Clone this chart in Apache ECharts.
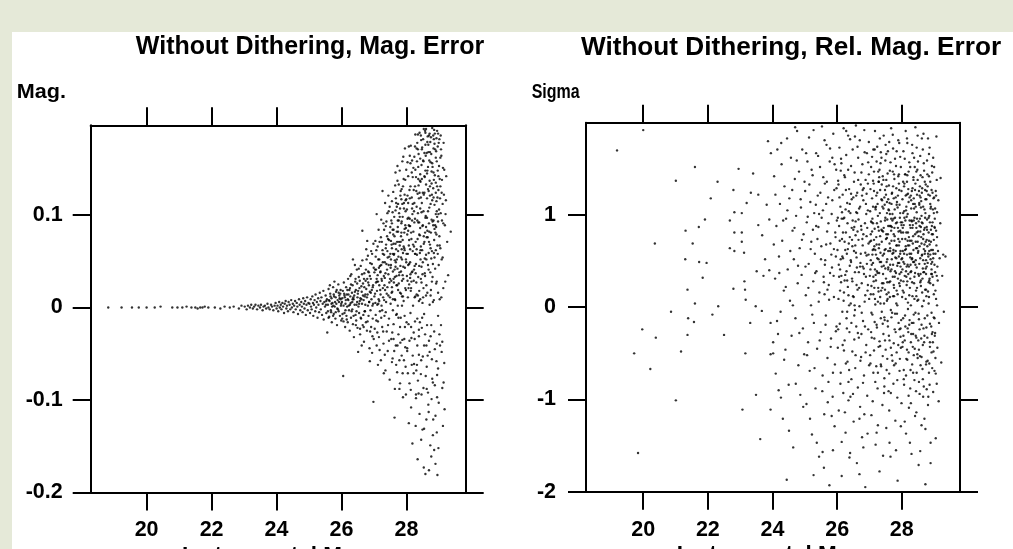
<!DOCTYPE html>
<html>
<head>
<meta charset="utf-8">
<script src="https://cdn.jsdelivr.net/npm/echarts@6/dist/echarts.min.js"></script>
<style>
html,body{margin:0;padding:0;background:#e5e9d8;}
#panel{position:absolute;left:12px;top:32px;width:1001px;height:517px;background:#fff;}
#chart{position:absolute;left:0;top:0;width:1013px;height:549px;}
</style>
</head>
<body>
<div id="panel"></div>
<div id="chart"></div>
<script>
const xTicks = [20, 22, 24, 26, 28];
const magErrTicks = [-0.2, -0.1, 0, 0.1];
const relErrTicks = [-2, -1, 0, 1];
const titles = ['Without Dithering, Mag. Error', 'Without Dithering, Rel. Mag. Error'];
const yNames = ['Mag.', 'Sigma'];
const xName = 'Instrumental Mag.';

// Left panel: [instrumental magnitude, magnitude error]
const magErrPoints = [
[18.82,0],[19.23,0],[19.55,0],[19.76,0],[20.0,0],[20.25,0],[20.43,0.001],[20.79,0],[20.95,0],[21.1,0],[21.23,0.001],[21.38,0],[21.5,0],[21.57,-0.001],[21.65,0],[21.72,0],[21.79,0.001],[21.9,0],[22.1,0],[22.27,-0.001],[22.4,0.001],[22.56,0],[22.68,0.001],[22.84,-0.001],[22.92,0.002],
[23.02,0.001],[23.08,-0.002],[23.12,0.002],[23.18,0],[23.22,0.003],[23.27,-0.001],[23.31,0.001],[23.35,0.003],[23.4,-0.002],[23.44,0.002],[23.49,0],[23.52,0.003],[23.57,-0.003],[23.6,0.001],[23.64,0.002],[23.68,-0.001],[23.72,0.004],[23.75,0],[23.79,-0.002],[23.83,0.003],[23.86,0.001],[23.9,-0.003],[23.94,0.002],[23.97,0.005],[24.0,-0.001],
[24.03,0.002],[24.05,-0.004],[24.08,0.006],[24.1,0],[24.13,0.003],[24.15,-0.002],[24.18,0.005],[24.2,0.001],[24.23,-0.006],[24.25,0.004],[24.28,0.007],[24.3,-0.001],[24.32,0.002],[24.35,-0.004],[24.37,0.006],[24.4,0.003],[24.42,-0.002],[24.45,0.008],[24.47,0],[24.5,0.004],[24.52,-0.005],[24.54,0.002],[24.57,0.007],[24.59,-0.002],[24.62,0.005],[24.64,0.001],[24.66,-0.007],[24.69,0.009],[24.71,0.003],[24.73,-0.003],[24.76,0.006],[24.78,0.001],[24.8,-0.005],[24.82,0.01],[24.84,0.004],[24.86,-0.001],[24.88,0.007],[24.9,-0.008],[24.92,0.003],[24.94,0.011],[24.96,-0.003],[24.98,0.005],
[25.01,0.004],[25.03,-0.006],[25.05,0.009],[25.06,0.001],[25.08,-0.002],[25.1,0.012],[25.12,0.005],[25.13,-0.009],[25.15,0.003],[25.17,0.008],[25.19,-0.004],[25.2,0.014],[25.22,0],[25.24,0.006],[25.26,-0.011],[25.28,0.01],[25.29,0.003],[25.31,-0.005],[25.33,0.016],[25.35,0.007],[25.36,-0.002],[25.38,0.011],[25.4,-0.008],[25.42,0.004],[25.44,0.018],[25.45,-0.013],[25.47,0.006],[25.49,0.001],[25.51,0.013],[25.53,-0.006],[25.55,0.009],[25.56,-0.027],[25.58,0.003],[25.6,0.02],[25.62,-0.01],[25.63,0.007],[25.65,0.015],[25.67,-0.003],[25.69,0.01],[25.7,-0.016],[25.72,0.005],[25.74,0.022],[25.76,-0.007],[25.77,0.012],[25.79,0.001],[25.81,-0.012],[25.83,0.017],[25.84,0.004],[25.86,-0.019],[25.88,0.008],[25.9,0.025],[25.91,-0.004],[25.93,0.013],[25.95,-0.009],[25.97,0.019],[25.98,0.002],[25.99,-0.014],
[25.52,0.003],[25.61,0.008],[25.68,-0.005],[25.75,0.002],[25.82,0.011],[25.87,-0.001],[25.92,0.006],[25.96,0.015],[25.78,0.028],[25.64,0.024],
[26.01,0.006],[26.02,-0.012],[26.04,0.018],[26.05,-0.074],[26.06,0.002],[26.07,0.027],[26.09,-0.006],[26.1,0.011],[26.11,-0.021],[26.12,0.004],[26.14,0.022],[26.15,-0.009],[26.16,0.014],[26.17,0.001],[26.19,-0.016],[26.2,0.031],[26.21,0.008],[26.23,-0.003],[26.24,0.019],[26.25,-0.025],[26.27,0.012],[26.28,0.005],[26.29,-0.011],[26.3,0.036],[26.32,0.016],[26.33,-0.002],[26.34,0.024],[26.35,-0.018],[26.37,0.009],[26.38,-0.032],[26.39,0.013],[26.4,0.003],[26.42,0.028],[26.43,-0.008],[26.44,0.019],[26.45,-0.014],[26.47,0.041],[26.48,0.006],[26.49,-0.022],[26.5,0.015],[26.52,0.001],[26.53,0.033],[26.54,-0.006],[26.55,0.021],[26.57,-0.029],[26.58,0.01],[26.59,0.045],[26.6,-0.012],[26.62,0.017],[26.63,0.004],[26.64,0.083],[26.65,-0.019],[26.66,0.026],[26.68,0.008],[26.69,-0.037],[26.7,0.037],[26.71,0.012],[26.72,-0.004],[26.74,0.029],[26.75,-0.016],[26.76,0.02],[26.77,0.052],[26.78,-0.025],[26.8,0.014],[26.81,0.002],[26.82,0.039],[26.83,-0.009],[26.84,0.024],[26.86,-0.044],[26.87,0.017],[26.88,0.048],[26.89,-0.003],[26.9,0.031],[26.91,-0.021],[26.92,0.009],[26.94,0.058],[26.95,-0.031],[26.96,0.022],[26.97,0.004],[26.98,-0.102],[26.99,0.043],
[26.19,0.009],[26.26,0.003],[26.36,0.011],[26.46,-0.004],[26.56,0.007],[26.61,0.023],[26.67,-0.008],[26.73,0.014],[26.79,0.031],[26.85,0.006],[26.93,0.019],[26.51,-0.048],[26.41,0.046],[26.87,-0.058],[26.62,-0.041],[26.35,0.052],
[27.01,0.012],[27.02,-0.023],[27.03,0.041],[27.04,0.005],[27.05,-0.008],[27.06,0.027],[27.07,0.062],[27.08,-0.041],[27.09,0.018],[27.1,0.003],[27.11,0.035],[27.12,-0.015],[27.13,0.052],[27.14,0.009],[27.15,-0.032],[27.16,0.024],[27.17,0.071],[27.18,-0.004],[27.19,0.038],[27.2,0.014],[27.21,-0.057],[27.22,0.046],[27.23,0.002],[27.24,0.029],[27.25,-0.021],[27.26,0.126],[27.27,0.058],[27.28,0.011],[27.29,-0.039],[27.3,0.034],[27.31,0.084],[27.32,-0.009],[27.33,0.049],[27.34,0.019],[27.35,-0.068],[27.36,0.064],[27.37,0.006],[27.38,0.093],[27.39,-0.026],[27.4,0.041],[27.41,0.022],[27.42,-0.047],[27.43,0.074],[27.44,0.013],[27.45,0.104],[27.46,-0.012],[27.47,0.055],[27.48,-0.078],[27.49,0.031],[27.5,0.087],[27.51,0.004],[27.52,0.046],[27.53,-0.034],[27.54,0.068],[27.55,0.115],[27.56,0.017],[27.57,-0.055],[27.58,0.039],[27.59,0.079],[27.6,-0.018],[27.61,0.027],[27.62,0.098],[27.63,-0.119],[27.64,0.051],[27.65,0.008],[27.66,0.146],[27.67,-0.041],[27.68,0.063],[27.69,0.024],[27.7,0.109],[27.71,-0.07],[27.72,0.042],[27.73,0.002],[27.74,0.082],[27.75,-0.029],[27.76,0.133],[27.77,0.035],[27.78,-0.088],[27.79,0.067],[27.8,0.016],[27.81,0.121],[27.82,-0.011],[27.83,0.054],[27.84,0.091],[27.85,-0.052],[27.86,0.029],[27.87,0.158],[27.88,0.073],[27.89,-0.097],[27.9,0.044],[27.91,0.007],[27.92,0.113],[27.93,-0.034],[27.94,0.062],[27.95,0.172],[27.96,0.021],[27.97,-0.064],[27.98,0.086],[27.99,0.049],
[27.12,0.028],[27.18,0.045],[27.27,0.021],[27.33,0.032],[27.38,0.047],[27.44,0.036],[27.5,0.058],[27.55,0.022],[27.6,0.069],[27.64,0.033],[27.7,0.052],[27.74,0.019],[27.79,0.098],[27.83,0.077],[27.88,0.035],[27.93,0.081],[27.97,0.104],[27.46,0.073],[27.36,-0.005],[27.58,-0.003],[27.68,-0.008],[27.86,0.012],[27.91,0.139],[27.77,0.102],[27.62,0.058],[27.53,0.094],[27.41,0.061],[27.22,-0.011],[27.16,0.052],[27.08,0.031],[27.95,-0.021],[27.85,0.128],[27.72,0.153],[27.81,-0.038],[27.99,0.117],[27.66,0.044],[27.49,0.011],[27.31,0.057],[27.24,0.071],[27.89,0.059],
[28.01,0.034],[28.02,-0.047],[28.03,0.096],[28.04,0.011],[28.05,0.142],[28.06,-0.018],[28.07,0.067],[28.08,0.025],[28.09,-0.082],[28.1,0.118],[28.11,0.049],[28.12,-0.006],[28.13,0.175],[28.14,0.081],[28.15,-0.033],[28.16,0.038],[28.17,0.107],[28.18,-0.147],[28.19,0.061],[28.2,0.002],[28.21,0.151],[28.22,0.029],[28.23,-0.061],[28.24,0.092],[28.25,0.045],[28.26,-0.015],[28.27,0.187],[28.28,0.071],[28.29,-0.098],[28.3,0.126],[28.31,0.014],[28.32,0.057],[28.33,-0.041],[28.34,-0.164],[28.35,0.102],[28.36,0.033],[28.37,0.166],[28.38,-0.024],[28.39,0.079],[28.4,-0.115],[28.41,0.137],[28.42,0.009],[28.43,0.062],[28.44,-0.072],[28.45,0.181],[28.46,0.044],[28.47,0.113],[28.48,-0.011],[28.49,0.088],[28.5,-0.053],[28.51,0.159],[28.52,0.021],[28.53,0.069],[28.54,-0.131],[28.55,0.124],[28.56,0.037],[28.57,-0.029],[28.58,-0.18],[28.59,0.099],[28.6,0.193],[28.61,0.052],[28.62,-0.064],[28.63,0.145],[28.64,0.016],[28.65,0.076],[28.66,-0.092],[28.67,0.168],[28.68,0.041],[28.69,-0.036],[28.7,0.108],[28.71,0.003],[28.72,0.131],[28.73,-0.149],[28.74,0.064],[28.75,0.184],[28.76,-0.019],[28.77,0.095],[28.78,0.028],[28.79,-0.077],[28.8,0.152],[28.81,0.047],[28.82,-0.121],[28.83,0.119],[28.84,0.008],[28.85,0.073],[28.86,0.177],[28.87,-0.045],[28.88,0.089],[28.89,-0.169],[28.9,0.135],[28.91,0.026],[28.92,-0.058],[28.93,0.104],[28.94,0.191],[28.95,-0.181],[28.96,0.058],[28.97,-0.009],[28.98,0.142],[28.99,-0.103],
[28.04,0.058],[28.08,0.073],[28.11,0.088],[28.14,0.021],[28.19,0.112],[28.23,0.066],[28.26,0.131],[28.29,0.047],[28.33,0.094],[28.36,0.139],[28.39,0.018],[28.42,0.107],[28.46,0.154],[28.49,0.036],[28.53,0.122],[28.57,0.081],[28.6,0.013],[28.63,0.097],[28.66,0.128],[28.69,0.071],[28.72,0.168],[28.76,0.053],[28.79,0.116],[28.83,0.146],[28.86,0.085],[28.9,0.062],[28.93,0.158],[28.97,0.093],[28.12,0.156],[28.31,0.172],[28.44,0.186],[28.58,0.176],[28.71,0.188],[28.84,0.182],[28.52,-0.087],[28.68,-0.113],[28.81,-0.138],[28.94,-0.073],[28.38,-0.051],[28.22,-0.027],[28.16,-0.062],[28.47,-0.022],[28.61,-0.041],[28.74,-0.031],[28.87,-0.084],[28.98,-0.152],[28.64,0.148],[28.55,0.167],[28.41,0.059],[28.27,0.012],[28.09,0.127],[28.35,-0.079],[28.77,0.134],[28.92,0.115],[28.06,0.097],
[29.01,0.077],[29.03,-0.041],[29.04,0.131],[29.06,-0.019],[29.07,0.164],[29.08,0.052],[29.1,-0.087],[29.11,0.112],[29.13,0.021],[29.14,0.178],[29.16,-0.06],[29.18,0.089],[29.2,0.101],[29.22,0.142],[29.25,0.071],[29.28,0.035],[29.05,0.186],[29.12,-0.128],[29.09,0.094],[29.02,0.009],[29.15,0.122],[29.36,0.082],[29.17,-0.11]
];

// Left panel, additional faint-star points
const magErrFaint = [
[25.53,0.007],[25.58,-0.004],[25.66,0.012],[25.71,0.001],[25.74,-0.009],[25.8,0.006],[25.85,0.019],[25.89,-0.002],[25.94,0.01],[25.99,0.004],[26.03,-0.007],[26.08,0.015],[26.13,0.008],[26.16,-0.013],[26.22,0.002],[26.26,0.021],[26.31,-0.004],[26.34,0.009],[26.41,0.017],[26.44,-0.019],[26.48,0.026],[26.27,0.034],[26.18,0.019],[26.09,0.013],[25.91,0.016],[25.6,-0.011],[26.37,-0.009],[26.46,0.003],[26.12,-0.003],[26.21,0.014],[25.82,-0.005],[25.69,0.004],[26.02,0.01],[26.33,0.006],[26.43,0.031],[25.97,0.009],[26.29,0.025],[26.06,-0.015],[25.76,0.014],[26.49,0.011],
[26.51,0.018],[26.54,0.004],[26.56,0.029],[26.59,-0.011],[26.61,0.009],[26.63,0.036],[26.66,0.013],[26.68,-0.021],[26.7,0.022],[26.73,0.003],[26.75,0.041],[26.78,0.011],[26.8,-0.015],[26.82,0.027],[26.85,0.006],[26.87,0.034],[26.88,-0.026],[26.9,0.016],[26.93,0.047],[26.95,0.002],[26.97,0.024],[26.99,-0.034],[27.01,0.038],[27.03,0.015],[27.05,0.055],[27.07,-0.014],[27.09,0.028],[27.11,0.066],[27.13,0.004],[27.15,0.043],[27.17,-0.046],[27.19,0.019],[27.21,0.076],[27.23,0.031],[27.25,-0.003],[27.27,0.049],[27.29,0.091],[27.31,0.008],[27.33,-0.051],[27.35,0.037],[27.37,0.068],[27.39,0.015],[27.41,0.102],[27.43,-0.019],[27.45,0.046],[27.47,0.027],[27.49,0.081],[26.57,-0.023],[26.64,0.051],[26.71,-0.004],[26.76,0.063],[26.84,0.038],[26.91,0.061],[26.96,-0.012],[27.04,0.072],[27.1,-0.027],[27.14,0.084],[27.2,0.039],[27.26,0.062],[27.32,0.024],[27.36,0.088],[27.42,0.054],[27.46,-0.036],[27.48,0.109],[26.53,0.042],[26.69,0.031],[26.81,0.056],[26.98,0.069],[27.06,0.041],[27.16,0.007],[27.28,-0.026],[27.4,0.077],[27.44,0.121],[27.34,0.113],[27.22,0.095],[27.08,0.101],[26.94,-0.049],[26.79,0.072],[27.3,-0.071],[27.12,-0.062],
[27.51,0.043],[27.52,0.072],[27.54,0.016],[27.55,0.091],[27.56,-0.027],[27.58,0.058],[27.59,0.125],[27.6,0.031],[27.62,-0.047],[27.63,0.077],[27.64,0.009],[27.66,0.105],[27.67,0.049],[27.68,-0.062],[27.7,0.082],[27.71,0.024],[27.72,0.137],[27.74,0.061],[27.75,-0.011],[27.76,0.094],[27.78,0.038],[27.79,0.148],[27.8,-0.082],[27.82,0.071],[27.83,0.015],[27.84,0.117],[27.86,0.052],[27.87,-0.035],[27.88,0.098],[27.9,0.163],[27.91,0.066],[27.92,-0.057],[27.94,0.122],[27.95,0.043],[27.96,0.089],[27.98,-0.094],[27.99,0.149],[28.0,0.058],[28.01,0.106],[28.03,0.029],[28.04,-0.071],[28.05,0.083],[28.07,0.174],[28.08,0.047],[28.09,-0.036],[28.1,0.096],[28.12,0.131],[28.13,0.018],[28.14,-0.108],[28.15,0.074],[28.17,0.159],[28.18,0.039],[28.19,-0.052],[27.53,0.029],[27.57,0.103],[27.61,0.057],[27.65,0.132],[27.69,0.034],[27.73,0.087],[27.77,0.071],[27.81,0.045],[27.85,0.093],[27.89,0.012],[27.93,0.064],[27.97,0.116],[28.02,0.079],[28.06,0.021],[28.11,0.063],[28.16,0.119],[27.6,0.084],[27.68,0.113],[27.75,0.055],[27.82,0.126],[27.9,0.031],[27.96,0.138],[28.03,0.157],[28.09,0.088],[28.15,0.028],[27.55,-0.059],[27.64,-0.088],[27.72,-0.041],[27.8,-0.021],[27.88,-0.071],[27.94,-0.009],[28.0,-0.016],[28.07,-0.125],[28.13,-0.089],[28.19,0.141],[27.66,0.069],[27.74,0.112],[27.84,0.081],[27.92,0.107],[27.98,0.052],[28.05,0.113],[28.12,0.036],[28.17,0.094],[27.58,0.009],[27.7,-0.007],[27.86,0.002],[28.02,-0.044],
[28.21,0.082],[28.22,0.127],[28.23,0.041],[28.24,0.163],[28.25,-0.034],[28.26,0.096],[28.27,0.058],[28.28,-0.128],[28.29,0.141],[28.3,0.027],[28.31,0.109],[28.32,-0.062],[28.33,0.178],[28.34,0.074],[28.35,0.013],[28.36,0.152],[28.37,-0.093],[28.38,0.118],[28.39,0.045],[28.4,0.189],[28.41,-0.016],[28.42,0.086],[28.43,0.136],[28.44,0.031],[28.45,-0.057],[28.46,0.103],[28.47,0.171],[28.48,0.062],[28.49,-0.132],[28.5,0.124],[28.51,0.011],[28.52,0.158],[28.53,0.077],[28.54,-0.041],[28.55,0.142],[28.56,0.053],[28.57,0.191],[28.58,0.097],[28.59,-0.074],[28.6,0.133],[28.61,0.024],[28.62,0.167],[28.63,-0.019],[28.64,0.083],[28.65,0.185],[28.66,0.046],[28.67,-0.105],[28.68,0.126],[28.69,0.091],[28.7,0.159],[28.71,-0.048],[28.72,0.068],[28.73,0.179],[28.74,0.112],[28.75,0.019],[28.76,-0.161],[28.77,0.147],[28.78,0.061],[28.79,0.194],[28.8,0.033],[28.81,-0.081],[28.82,0.129],[28.83,0.172],[28.84,0.059],[28.85,-0.026],[28.86,0.111],[28.87,0.188],[28.88,0.042],[28.89,-0.117],[28.9,0.162],[28.91,0.087],[28.92,0.183],[28.93,-0.039],[28.94,0.131],[28.95,0.067],[28.96,0.174],[28.97,-0.066],[28.98,0.101],[28.99,0.046],[29.0,0.153],[29.01,-0.029],[29.03,0.118],[29.04,0.064],[29.06,0.171],[29.08,-0.048],[29.09,0.138],[29.11,0.054],[29.13,0.091],[29.14,-0.081],[29.16,0.149],[29.19,0.028],[29.21,0.116],[28.23,0.104],[28.27,0.149],[28.31,0.063],[28.35,0.171],[28.39,0.092],[28.43,0.052],[28.47,0.139],[28.51,0.182],[28.55,0.071],[28.59,0.164],[28.63,0.118],[28.67,0.176],[28.71,0.137],[28.75,0.081],[28.79,0.156],[28.83,0.094],[28.87,0.143],[28.91,0.169],[28.95,0.119],[28.99,0.178],[29.02,0.139],[29.05,0.102],[28.25,0.011],[28.33,-0.012],[28.41,0.078],[28.49,0.005],[28.57,0.034],[28.65,-0.052],[28.73,0.038],[28.81,0.006],[28.89,0.081],[28.97,0.016],[28.29,-0.094],[28.45,-0.143],[28.61,-0.121],[28.77,-0.099],[28.93,-0.135],[28.53,-0.173],[28.85,-0.154],[28.69,-0.176],[28.37,0.132],[28.53,0.193],[28.69,0.186],[28.85,0.192],[29.01,0.182],[28.26,0.174],[28.42,0.161],[28.58,0.148],[28.74,0.157],[28.9,0.124],[29.07,0.011],[28.22,-0.071],[28.38,-0.031],[28.46,0.027],[28.62,0.076],[28.78,0.122],[28.94,0.098],[28.34,0.123],[28.5,0.089],[28.66,0.104],[28.82,0.089],[28.98,0.127],[28.44,0.119],[28.6,0.057],
[27.52,0.052],[27.57,0.084],[27.63,0.041],[27.67,0.118],[27.71,0.071],[27.76,0.026],[27.8,0.107],[27.85,0.063],[27.89,0.131],[27.94,0.085],[27.98,0.019],[28.03,0.121],[28.07,0.089],[28.11,0.032],[28.16,0.146],[28.2,0.068],[28.24,0.113],[28.28,0.037],[28.32,0.158],[28.36,0.092],[28.4,0.124],[28.44,0.066],[28.48,0.173],[28.52,0.104],[28.56,0.141],[28.6,0.087],[28.64,0.179],[28.68,0.059],[28.72,0.121],[28.76,0.166],[28.8,0.093],[28.84,0.138],[28.88,0.171],[28.92,0.079],[28.96,0.148],[29.0,0.106],[29.04,0.162],[29.08,0.124],[29.12,0.151],[27.6,-0.034],[27.78,-0.057],[27.96,-0.043],[28.14,-0.021],[28.3,-0.068],[28.46,-0.094],[28.62,-0.088],[28.78,-0.056],[28.94,-0.097],[29.1,-0.037],[28.35,0.187],[28.58,0.189],[28.82,0.186],[28.97,0.188],[28.1,0.164],[27.87,0.112],[28.26,0.058],[28.5,0.049],[28.7,0.082],[28.9,0.101],[27.73,0.094],[28.18,0.101],[28.42,0.144],[28.66,0.152],[28.86,0.054],[29.02,0.067],[27.55,0.064],[27.83,0.039],[28.05,0.046],[28.38,0.007],[28.54,-0.007],[28.74,0.013],[28.93,0.028]
];

// Right panel: [instrumental magnitude, relative error in sigma]
const relErrPoints = [
[19.19,1.7],[20.0,1.92],[19.72,-0.5],[19.84,-1.58],[19.97,-0.24],[20.22,-0.67],[20.36,0.69],[20.39,-0.33],[20.86,-0.05],[21.01,-1.01],[21.01,1.37],[21.17,-0.48],[21.3,0.52],[21.31,0.83],[21.37,0.19],[21.37,-0.3],[21.39,-0.12],[21.53,0.69],[21.57,-0.16],[21.6,0.04],[21.72,0.87],[21.73,0.49],[21.84,0.32],[21.91,0.95],[21.96,0.48],[22.09,1.18],[22.14,-0.08],[22.32,0.01],[22.5,-0.3],[22.68,0.94],[22.68,0.64],[22.79,1.27],[22.79,0.2],[22.82,1.03],[22.82,0.81],[22.82,0.61],[23.05,1.02],[23.05,0.81],[23.05,0.71],[23.12,0.59],[23.13,0.28],[23.15,0.19],[23.17,0.08],[23.16,-0.5],[23.2,1.13],[23.31,-0.17],[23.33,1.24],[23.48,0.01],[23.49,-0.95],[23.51,0.39],[23.56,1.22],[23.56,0.89],[23.67,-0.04],[23.68,0.78],[23.72,0.34],[23.77,0.52],[23.82,1.11],[23.9,0.4],[23.9,0.95],[23.94,-0.17],[23.94,-0.51],[24.02,-0.5],[23.94,-1.11],[23.07,-1.11],[24.02,-0.38],
[21.6,1.52],[22.3,1.36],[23.86,1.8],[23.95,1.67],[22.95,1.5],[23.4,1.45],[23.62,-1.43],
[24.05,1.42],[24.08,0.31],[24.1,-0.72],[24.12,0.88],[24.15,1.71],[24.17,-0.29],[24.19,-0.9],[24.2,0.55],[24.23,1.12],[24.25,-0.05],[24.28,1.55],[24.3,0.72],[24.32,-1.21],[24.35,0.18],[24.37,1.31],[24.4,-0.46],[24.42,0.96],[24.45,1.83],[24.47,0.41],[24.5,-0.84],[24.52,1.18],[24.54,0.07],[24.57,1.62],[24.59,-0.31],[24.62,0.83],[24.64,-1.52],[24.66,0.52],[24.69,1.39],[24.71,-0.12],[24.73,0.99],[24.76,1.91],[24.78,0.26],[24.8,-0.63],[24.82,1.47],[24.84,0.64],[24.86,-0.95],[24.88,1.08],[24.9,0.35],[24.92,1.71],[24.94,-0.23],[24.96,0.79],[24.98,-0.51],
[25.01,1.26],[25.03,0.13],[25.05,-1.05],[25.06,0.92],[25.08,1.58],[25.1,-0.38],[25.12,0.47],[25.13,1.84],[25.15,-0.69],[25.17,1.14],[25.19,0.02],[25.2,0.71],[25.22,-1.38],[25.24,1.43],[25.26,0.28],[25.28,-0.17],[25.29,1.02],[25.31,0.58],[25.33,-0.88],[25.35,1.67],[25.36,0.39],[25.38,-0.45],[25.4,1.21],[25.42,0.87],[25.44,-1.62],[25.45,0.16],[25.47,1.52],[25.49,-0.27],[25.51,0.66],[25.53,1.96],[25.55,-0.74],[25.56,1.05],[25.58,0.33],[25.6,-1.16],[25.62,1.34],[25.63,0.51],[25.65,-0.09],[25.67,1.76],[25.69,0.82],[25.7,-0.55],[25.72,1.19],[25.74,0.24],[25.76,-1.93],[25.77,1.58],[25.79,0.69],[25.81,-0.34],[25.83,1.01],[25.84,0.43],[25.86,-0.97],[25.88,1.88],[25.9,0.11],[25.91,1.27],[25.93,-0.62],[25.95,0.76],[25.97,1.49],[25.98,-0.21],[25.99,0.94],
[25.52,0.97],[25.61,0.14],[25.66,1.12],[25.73,-0.81],[25.78,0.37],[25.85,1.62],[25.92,-1.29],[25.96,0.55],[25.59,-1.74],[25.87,-1.55],
[26.01,0.62],[26.02,-0.44],[26.03,1.37],[26.04,0.09],[26.05,-1.12],[26.06,0.88],[26.07,1.73],[26.08,-0.18],[26.09,0.41],[26.1,1.09],[26.11,-0.71],[26.12,0.27],[26.13,1.56],[26.14,-1.83],[26.15,0.74],[26.16,-0.05],[26.17,1.22],[26.18,0.53],[26.19,-0.93],[26.2,1.94],[26.21,0.16],[26.22,0.97],[26.23,-0.36],[26.24,1.41],[26.25,0.35],[26.26,-1.36],[26.27,0.81],[26.28,1.65],[26.29,-0.12],[26.3,0.58],[26.31,1.13],[26.32,-0.59],[26.33,0.22],[26.34,1.86],[26.35,-1.01],[26.36,0.69],[26.37,1.28],[26.38,-0.27],[26.39,0.45],[26.4,-1.58],[26.41,1.02],[26.42,0.04],[26.43,1.53],[26.44,-0.78],[26.45,0.86],[26.46,0.31],[26.47,-0.48],[26.48,1.71],[26.49,0.12],[26.5,1.19],[26.51,-1.24],[26.52,0.61],[26.53,-0.09],[26.54,1.46],[26.55,0.38],[26.56,-0.66],[26.57,0.93],[26.58,1.97],[26.59,-0.21],[26.6,0.54],[26.61,-1.69],[26.62,1.24],[26.63,0.19],[26.64,-0.87],[26.65,1.62],[26.66,0.73],[26.67,-0.33],[26.68,1.07],[26.69,0.01],[26.7,1.81],[26.71,-1.08],[26.72,0.48],[26.73,1.33],[26.74,-0.54],[26.75,0.84],[26.76,0.26],[26.77,-1.41],[26.78,1.55],[26.79,0.67],[26.8,-0.15],[26.81,1.16],[26.82,0.42],[26.83,-0.74],[26.84,1.92],[26.85,0.06],[26.86,0.91],[26.87,-1.95],[26.88,1.38],[26.89,0.33],[26.9,-0.41],[26.91,0.77],[26.92,1.67],[26.93,-0.96],[26.94,0.18],[26.95,1.05],[26.96,-0.24],[26.97,0.57],[26.98,1.44],[26.99,-0.63],
[26.06,0.33],[26.14,0.96],[26.23,0.71],[26.31,0.29],[26.39,1.12],[26.47,0.66],[26.55,-0.03],[26.63,0.82],[26.71,0.44],[26.79,1.27],[26.87,0.59],[26.95,0.24],[26.11,1.48],[26.27,-0.61],[26.43,0.49],[26.59,1.03],[26.75,-0.29],[26.91,1.23],[26.53,0.87],[26.37,0.02],
[27.01,0.71],[27.02,-0.52],[27.03,1.28],[27.04,0.14],[27.05,0.93],[27.06,-1.17],[27.07,0.46],[27.08,1.63],[27.09,-0.08],[27.1,0.62],[27.11,1.09],[27.12,-0.71],[27.13,0.28],[27.14,1.47],[27.15,-0.34],[27.16,0.85],[27.17,1.91],[27.18,0.03],[27.19,-1.49],[27.2,0.57],[27.21,1.21],[27.22,-0.19],[27.23,0.39],[27.24,1.74],[27.25,-0.88],[27.26,0.99],[27.27,0.21],[27.28,-0.43],[27.29,1.36],[27.3,0.68],[27.31,-1.78],[27.32,1.02],[27.33,0.11],[27.34,1.56],[27.35,-0.62],[27.36,0.49],[27.37,1.17],[27.38,-0.05],[27.39,0.83],[27.4,-1.06],[27.41,1.42],[27.42,0.36],[27.43,-0.29],[27.44,1.86],[27.45,0.58],[27.46,-0.77],[27.47,1.11],[27.48,0.19],[27.49,1.59],[27.5,-0.46],[27.51,0.74],[27.52,-1.31],[27.53,1.31],[27.54,0.07],[27.55,0.95],[27.56,-0.15],[27.57,1.69],[27.58,0.43],[27.59,-0.91],[27.6,1.05],[27.61,0.27],[27.62,-0.36],[27.63,1.48],[27.64,0.64],[27.65,-1.62],[27.66,0.88],[27.67,1.94],[27.68,-0.11],[27.69,0.52],[27.7,1.24],[27.71,-0.58],[27.72,0.33],[27.73,1.72],[27.74,-0.83],[27.75,0.79],[27.76,0.12],[27.77,1.39],[27.78,-0.24],[27.79,0.97],[27.8,-1.23],[27.81,0.61],[27.82,1.53],[27.83,0.04],[27.84,-0.49],[27.85,1.14],[27.86,0.45],[27.87,-1.88],[27.88,0.86],[27.89,1.81],[27.9,-0.17],[27.91,0.55],[27.92,1.27],[27.93,-0.69],[27.94,0.23],[27.95,1.63],[27.96,-0.32],[27.97,0.92],[27.98,0.38],[27.99,-1.04],
[27.03,0.41],[27.08,0.82],[27.13,0.63],[27.18,1.08],[27.23,0.91],[27.28,0.52],[27.33,0.77],[27.38,1.33],[27.43,0.26],[27.48,0.94],[27.53,0.49],[27.58,1.17],[27.63,0.11],[27.68,0.72],[27.73,0.46],[27.78,1.06],[27.83,0.67],[27.88,0.31],[27.93,1.11],[27.98,0.81],[27.05,-0.27],[27.15,0.21],[27.25,0.37],[27.35,-0.12],[27.45,0.04],[27.55,-0.56],[27.65,0.39],[27.75,-0.39],[27.85,-0.07],[27.95,0.58],[27.11,1.37],[27.31,1.49],[27.51,1.22],[27.71,1.01],[27.91,1.44],[27.21,-0.64],[27.41,-0.53],[27.61,-0.72],[27.81,-0.61],[27.97,-0.44],
[28.01,0.53],[28.02,1.17],[28.03,-0.38],[28.04,0.81],[28.05,1.69],[28.06,0.16],[28.07,-0.84],[28.08,0.97],[28.09,0.34],[28.1,1.44],[28.11,-0.21],[28.12,0.66],[28.13,-1.37],[28.14,1.09],[28.15,0.24],[28.16,1.83],[28.17,-0.57],[28.18,0.72],[28.19,0.05],[28.2,1.28],[28.21,-0.96],[28.22,0.44],[28.23,1.57],[28.24,-0.14],[28.25,0.89],[28.26,0.31],[28.27,-0.68],[28.28,1.21],[28.29,0.58],[28.3,-1.59],[28.31,0.93],[28.32,1.76],[28.33,0.12],[28.34,-0.43],[28.35,0.77],[28.36,1.38],[28.37,-0.08],[28.38,0.49],[28.39,-0.79],[28.4,1.12],[28.41,0.37],[28.42,1.95],[28.43,-0.31],[28.44,0.64],[28.45,-1.14],[28.46,1.03],[28.47,0.21],[28.48,1.49],[28.49,-0.55],[28.5,0.82],[28.51,0.08],[28.52,-1.71],[28.53,1.26],[28.54,0.47],[28.55,-0.24],[28.56,0.96],[28.57,1.64],[28.58,-0.63],[28.59,0.29],[28.6,1.15],[28.61,-1.28],[28.62,0.56],[28.63,0.01],[28.64,1.41],[28.65,-0.41],[28.66,0.74],[28.67,1.88],[28.68,-0.86],[28.69,0.38],[28.7,1.06],[28.71,-0.12],[28.72,0.61],[28.73,-1.92],[28.74,1.33],[28.75,0.19],[28.76,-0.59],[28.77,0.87],[28.78,1.59],[28.79,-0.33],[28.8,0.48],[28.81,-1.06],[28.82,1.22],[28.83,0.27],[28.84,-0.71],[28.85,0.99],[28.86,1.73],[28.87,-0.18],[28.88,0.57],[28.89,-1.47],[28.9,1.09],[28.91,0.36],[28.92,-0.49],[28.93,0.79],[28.94,1.46],[28.95,-0.27],[28.96,0.62],[28.97,-0.92],[28.98,1.18],[28.99,0.14],
[28.02,0.41],[28.06,0.89],[28.1,0.62],[28.14,0.33],[28.18,1.01],[28.22,0.76],[28.26,0.54],[28.3,0.94],[28.34,0.69],[28.38,1.07],[28.42,0.46],[28.46,0.81],[28.5,0.59],[28.54,1.13],[28.58,0.36],[28.62,0.92],[28.66,0.51],[28.7,0.68],[28.74,0.42],[28.78,0.84],[28.82,0.55],[28.86,0.31],[28.9,0.71],[28.94,0.49],[28.98,0.58],[28.04,-0.12],[28.12,0.09],[28.2,-0.27],[28.28,0.02],[28.36,-0.17],[28.44,0.18],[28.52,-0.07],[28.6,-0.34],[28.68,0.07],[28.76,-0.22],[28.84,0.11],[28.92,-0.06],[28.08,1.34],[28.24,1.19],[28.4,1.52],[28.56,1.31],[28.72,1.27],[28.88,1.36],[28.16,-0.46],[28.32,-0.62],[28.48,-0.51],[28.64,-0.67],[28.8,-0.58],[28.96,-0.38],[28.46,1.73],[28.28,-1.04],[28.7,-1.21],[28.55,-0.94],
[29.01,0.46],[29.02,-0.31],[29.03,1.07],[29.04,0.18],[29.05,-0.72],[29.06,0.83],[29.08,1.38],[29.09,0.02],[29.1,-0.44],[29.12,0.61],[29.13,1.16],[29.15,-0.17],[29.17,0.53],[29.19,0.91],[29.22,-0.6],[29.25,0.34],[29.28,0.57],[29.3,-0.05],[29.35,0.55],[29.07,1.85],[29.14,-1.02],[29.2,1.4],[29.11,0.29]
];

// Right panel, additional faint-star points
const relErrFaint = [
[24.04,0.68],[24.09,1.22],[24.14,-0.15],[24.21,0.37],[24.27,1.78],[24.33,0.94],[24.36,-0.57],[24.41,0.22],[24.46,1.05],[24.51,-1.34],[24.55,0.61],[24.61,1.27],[24.63,0.02],[24.68,0.86],[24.72,-0.83],[24.75,1.59],[24.79,0.45],[24.83,-0.28],[24.87,1.17],[24.91,0.73],[24.95,-1.08],[24.99,1.36],[24.44,-1.87],[24.7,1.95],[24.26,-0.98],
[25.02,0.44],[25.04,1.67],[25.07,-0.52],[25.09,0.98],[25.11,0.21],[25.14,1.33],[25.16,-1.21],[25.18,0.63],[25.21,1.49],[25.23,-0.08],[25.25,0.84],[25.27,1.92],[25.3,-0.66],[25.32,0.37],[25.34,1.11],[25.37,-1.47],[25.39,0.74],[25.41,1.64],[25.43,0.06],[25.46,-0.36],[25.48,1.24],[25.5,0.52],[25.54,-0.91],[25.57,1.41],[25.59,0.27],[25.61,1.81],[25.64,-0.19],[25.66,0.68],[25.68,1.36],[25.71,-1.03],[25.73,0.91],[25.75,0.08],[25.78,1.72],[25.8,-0.43],[25.82,0.57],[25.85,1.16],[25.87,-0.71],[25.89,0.34],[25.92,1.55],[25.94,0.81],[25.96,-0.26],[25.98,1.29],[25.27,-1.82],[25.55,-1.57],[25.83,-1.18],[25.62,0.46],[25.44,1.01],[25.7,0.19],[25.9,0.63],[25.35,0.88],
[26.02,0.97],[26.03,-0.24],[26.05,0.46],[26.07,1.19],[26.08,0.72],[26.1,-0.83],[26.12,1.61],[26.13,0.34],[26.15,1.03],[26.17,-0.41],[26.18,0.81],[26.2,0.07],[26.22,1.43],[26.24,-1.14],[26.25,0.62],[26.27,1.27],[26.29,0.39],[26.3,-0.23],[26.32,0.91],[26.34,1.49],[26.35,0.13],[26.37,-0.68],[26.39,0.76],[26.4,1.82],[26.42,0.51],[26.44,-0.17],[26.45,1.17],[26.47,0.28],[26.49,-0.94],[26.5,0.84],[26.52,1.36],[26.54,0.02],[26.56,0.67],[26.57,-0.52],[26.59,1.21],[26.61,0.43],[26.63,1.74],[26.64,-0.28],[26.66,0.95],[26.68,0.21],[26.69,-1.21],[26.71,1.09],[26.73,0.58],[26.75,1.46],[26.76,-0.06],[26.78,0.74],[26.8,-0.82],[26.82,1.29],[26.83,0.36],[26.85,1.68],[26.87,0.13],[26.88,-0.49],[26.9,1.01],[26.92,0.47],[26.94,-1.37],[26.95,1.34],[26.97,0.69],[26.99,0.09],[26.04,1.33],[26.09,0.18],[26.16,0.55],[26.21,-0.47],[26.26,1.06],[26.33,0.63],[26.38,-1.63],[26.43,1.23],[26.48,0.94],[26.53,-0.35],[26.58,0.59],[26.62,1.02],[26.67,0.38],[26.72,-0.58],[26.77,1.21],[26.81,0.79],[26.86,-0.21],[26.91,0.56],[26.96,1.57],[26.14,-1.46],[26.28,1.91],[26.41,-0.97],[26.55,1.85],[26.69,-1.81],[26.84,-1.16],[26.98,1.79],[26.19,0.96],[26.31,-0.05],[26.46,0.73],[26.6,0.24],[26.74,0.88],[26.89,1.12],[26.23,0.29],[26.36,1.04],[26.51,0.11],[26.65,1.38],[26.79,0.44],[26.93,0.86],[26.11,0.52],[26.57,0.78],[26.81,-1.52],[26.35,-0.81],
[27.01,0.34],[27.02,1.04],[27.03,-0.61],[27.04,0.79],[27.05,1.52],[27.06,0.23],[27.07,-0.33],[27.08,1.18],[27.09,0.57],[27.1,-1.02],[27.11,0.91],[27.12,0.14],[27.13,1.34],[27.14,-0.47],[27.15,0.66],[27.16,1.71],[27.17,0.41],[27.18,-0.81],[27.19,1.06],[27.2,0.29],[27.21,0.76],[27.22,1.58],[27.23,-0.22],[27.24,0.53],[27.25,1.12],[27.26,-1.28],[27.27,0.87],[27.28,0.17],[27.29,0.64],[27.3,1.41],[27.31,-0.37],[27.32,0.49],[27.33,1.27],[27.34,0.04],[27.35,0.93],[27.36,-0.64],[27.37,1.62],[27.38,0.71],[27.39,0.26],[27.4,1.09],[27.41,-0.18],[27.42,0.82],[27.43,1.38],[27.44,0.45],[27.45,-0.93],[27.46,1.19],[27.47,0.62],[27.48,-0.36],[27.49,0.97],[27.5,1.76],[27.51,0.31],[27.52,0.79],[27.53,-0.68],[27.54,1.14],[27.55,0.52],[27.56,1.45],[27.57,-0.21],[27.58,0.88],[27.59,0.16],[27.6,1.32],[27.61,-1.12],[27.62,0.69],[27.63,1.01],[27.64,0.28],[27.65,1.57],[27.66,-0.44],[27.67,0.83],[27.68,0.41],[27.69,1.23],[27.7,-0.06],[27.71,0.94],[27.72,1.47],[27.73,0.12],[27.74,0.59],[27.75,1.18],[27.76,-0.63],[27.77,0.72],[27.78,0.33],[27.79,1.61],[27.8,0.54],[27.81,-0.27],[27.82,0.91],[27.83,1.29],[27.84,0.18],[27.85,0.67],[27.86,-0.98],[27.87,1.08],[27.88,0.48],[27.89,-0.41],[27.9,0.82],[27.91,1.34],[27.92,0.26],[27.93,0.71],[27.94,-0.56],[27.95,1.02],[27.96,0.44],[27.97,1.52],[27.98,-0.14],[27.99,0.89],
[27.04,0.51],[27.09,0.96],[27.14,0.73],[27.19,0.35],[27.24,1.24],[27.29,0.83],[27.34,0.59],[27.39,1.16],[27.44,0.86],[27.49,0.42],[27.54,0.75],[27.59,1.06],[27.64,0.61],[27.69,0.87],[27.74,0.96],[27.79,0.39],[27.84,1.11],[27.89,0.74],[27.94,0.97],[27.99,0.52],[27.06,-0.06],[27.16,-0.16],[27.26,0.06],[27.36,0.18],[27.46,-0.11],[27.56,0.09],[27.66,-0.03],[27.76,0.21],[27.86,0.02],[27.96,-0.23],[27.12,1.71],[27.32,1.83],[27.52,1.66],[27.72,1.87],[27.92,1.78],[27.22,-1.36],[27.42,-1.61],[27.62,-1.47],[27.82,-1.55],[27.97,-1.29],[27.18,0.62],[27.38,0.44],[27.58,0.61],[27.78,0.77],[27.93,0.36],[27.28,1.36],[27.48,1.27],[27.68,1.12],[27.88,1.21],[27.53,0.14],
[28.01,0.92],[28.02,-0.43],[28.03,0.61],[28.04,1.36],[28.05,0.28],[28.06,-0.78],[28.07,1.04],[28.08,0.47],[28.09,1.61],[28.1,-0.09],[28.11,0.74],[28.12,1.21],[28.13,0.39],[28.14,-0.56],[28.15,0.98],[28.16,0.57],[28.17,1.43],[28.18,-0.23],[28.19,0.81],[28.2,0.36],[28.21,1.14],[28.22,-1.09],[28.23,0.67],[28.24,0.94],[28.25,0.21],[28.26,1.52],[28.27,0.46],[28.28,-0.38],[28.29,1.07],[28.3,0.72],[28.31,-0.17],[28.32,0.53],[28.33,1.29],[28.34,0.89],[28.35,-0.71],[28.36,0.62],[28.37,1.18],[28.38,0.26],[28.39,0.97],[28.4,-0.45],[28.41,0.79],[28.42,1.34],[28.43,0.51],[28.44,-0.91],[28.45,0.86],[28.46,0.43],[28.47,1.22],[28.48,0.07],[28.49,0.71],[28.5,1.58],[28.51,-0.36],[28.52,0.93],[28.53,0.34],[28.54,1.11],[28.55,0.66],[28.56,-0.53],[28.57,0.82],[28.58,1.43],[28.59,0.23],[28.6,0.76],[28.61,-0.19],[28.62,1.24],[28.63,0.57],[28.64,0.91],[28.65,-0.78],[28.66,1.09],[28.67,0.38],[28.68,0.63],[28.69,1.48],[28.7,-0.31],[28.71,0.86],[28.72,0.19],[28.73,1.02],[28.74,0.71],[28.75,-0.62],[28.76,1.17],[28.77,0.44],[28.78,0.95],[28.79,-0.09],[28.8,1.31],[28.81,0.58],[28.82,-0.97],[28.83,0.81],[28.84,1.42],[28.85,0.29],[28.86,0.68],[28.87,-0.43],[28.88,1.12],[28.89,0.52],[28.9,0.84],[28.91,-0.21],[28.92,1.27],[28.93,0.36],[28.94,-0.66],[28.95,0.92],[28.96,1.06],[28.97,0.24],[28.98,-0.48],[28.99,0.73],[29.0,1.19],[29.01,-0.12],[29.02,0.86],[29.03,0.38],[29.04,-0.55],[29.05,1.26],[29.06,0.09],[29.07,0.67],[29.08,-0.83],[29.09,1.03],[29.1,0.44],
[28.03,0.18],[28.07,0.58],[28.11,1.44],[28.15,0.44],[28.19,1.23],[28.23,0.13],[28.27,0.86],[28.31,1.26],[28.35,0.49],[28.39,0.09],[28.43,1.09],[28.47,0.64],[28.51,0.36],[28.55,1.21],[28.59,0.87],[28.63,0.16],[28.67,0.79],[28.71,1.36],[28.75,0.51],[28.79,0.66],[28.83,0.04],[28.87,0.92],[28.91,0.62],[28.95,0.33],[28.99,1.02],[28.05,-0.31],[28.13,-0.74],[28.21,-0.49],[28.29,-0.29],[28.37,-0.52],[28.45,-0.33],[28.53,-0.81],[28.61,-0.54],[28.69,-0.38],[28.77,-0.89],[28.85,-0.61],[28.93,-0.29],[29.01,-0.69],[28.09,-1.24],[28.25,-1.47],[28.41,-1.18],[28.57,-1.56],[28.73,-1.32],[28.89,-1.69],[29.05,-1.42],[28.17,1.78],[28.33,1.67],[28.49,1.86],[28.65,1.71],[28.81,1.83],[28.97,1.62],[28.13,1.05],[28.29,0.39],[28.45,1.47],[28.61,0.99],[28.77,1.26],[28.93,1.53],[29.09,0.76],[28.01,0.74],[28.57,0.53],[28.35,1.12],[28.71,0.47],[28.87,1.21],[28.19,-0.02],[28.53,-0.13],
[27.07,0.92],[27.11,0.48],[27.14,1.26],[27.17,0.09],[27.22,0.68],[27.27,1.47],[27.3,0.37],[27.33,-0.42],[27.37,0.84],[27.4,0.21],[27.43,1.07],[27.47,-0.14],[27.5,0.63],[27.52,1.38],[27.55,0.27],[27.57,0.79],[27.6,-0.31],[27.62,1.13],[27.64,0.46],[27.67,0.96],[27.69,-0.52],[27.71,0.58],[27.73,1.31],[27.75,0.24],[27.77,0.86],[27.79,-0.07],[27.81,1.19],[27.83,0.53],[27.85,0.92],[27.87,0.14],[27.89,1.42],[27.91,0.67],[27.93,-0.24],[27.95,0.83],[27.97,0.29],[27.99,1.26],[28.01,0.11],[28.03,0.86],[28.05,0.49],[28.07,1.31],[28.09,-0.36],[28.11,0.94],[28.13,0.63],[28.15,1.22],[28.17,0.28],[28.19,0.67],[28.21,1.47],[28.23,-0.19],[28.25,0.72],[28.27,0.38],[28.29,1.16],[28.31,0.52],[28.33,0.86],[28.35,-0.29],[28.37,0.94],[28.39,0.33],[28.41,1.27],[28.43,0.71],[28.45,0.12],[28.47,0.96],[28.49,1.38],[28.51,0.61],[28.53,-0.46],[28.55,0.88],[28.57,0.27],[28.59,1.08],[28.61,0.69],[28.63,1.29],[28.65,0.42],[28.67,-0.23],[28.69,0.84],[28.71,0.58],[28.73,1.17],[28.75,0.36],[28.77,0.73],[28.79,1.44],[28.81,0.17],[28.83,0.97],[28.85,0.61],[28.87,-0.38],[28.89,1.07],[28.91,0.47],[28.93,0.88],[28.95,1.24],[28.97,0.53],[28.99,-0.11],[29.02,0.96],[29.04,0.58],[29.06,1.21],[29.08,0.34],[27.26,-0.71],[27.46,-0.86],[27.66,-0.93],[27.86,-0.79],[28.06,-0.68],[28.26,-0.88],[28.46,-0.71],[28.66,-0.97],[28.86,-0.84],[29.03,-0.28],[27.35,1.68],[27.61,1.79],[27.84,1.69],[28.12,1.91],[28.38,1.62],[28.62,1.83],[28.84,1.66],[29.0,1.52],[27.58,0.41],[27.74,0.62],[27.92,0.48],[28.14,0.81],[28.32,0.27],[28.52,0.77],[28.72,0.97],[28.92,0.41],[27.41,0.56],[27.63,0.88],[27.82,0.37],[28.04,1.02],[28.24,0.58],[28.44,0.91],[28.64,0.31],[28.84,0.72],[29.01,0.87],[28.18,0.46],[28.36,1.41],[28.58,1.19],[28.76,0.12],[28.96,0.79],[27.54,1.02],[27.76,1.44],[27.96,0.61],[28.16,1.36],[28.42,-0.06],[28.68,1.56],[28.88,0.26],[27.2,1.09],[27.12,0.33],[27.05,0.72]
];

const FONT = '"Liberation Sans", Arial, Helvetica, sans-serif';
const lineStyle = { color: '#000', width: 2 };
const labelStyle = { color: '#000', fontSize: 21.5, fontWeight: 'bold', fontFamily: FONT };

function xAx(grid, pos, min, max, withLabel) {
  return {
    type: 'value', gridIndex: grid, position: pos, min: min, max: max,
    axisLine: { show: true, onZero: false, lineStyle: lineStyle },
    axisTick: { show: true, inside: false, length: 18, lineStyle: lineStyle, customValues: xTicks },
    axisLabel: withLabel ? Object.assign({ show: true, margin: 27, customValues: xTicks }, labelStyle) : { show: false },
    splitLine: { show: false },
    name: withLabel ? xName : '', nameLocation: 'middle', nameGap: 52, nameMoveOverlap: false,
    nameTextStyle: { color: '#000', fontSize: 22.5, fontWeight: 'bold', fontFamily: FONT }
  };
}
function yAx(grid, pos, min, max, ticks, withLabel, margin) {
  return {
    type: 'value', gridIndex: grid, position: pos, min: min, max: max,
    axisLine: { show: true, onZero: false, lineStyle: lineStyle },
    axisTick: { show: true, inside: false, length: 18, lineStyle: lineStyle, customValues: ticks },
    axisLabel: withLabel ? Object.assign({ show: true, margin: margin, customValues: ticks, formatter: v => String(v) }, labelStyle) : { show: false },
    splitLine: { show: false }
  };
}
function txt(x, y, text, size, align, sx) {
  return { type: 'text', x: x, y: y, scaleX: sx, silent: true,
    style: { text: text, font: 'bold ' + size + 'px ' + FONT, fill: '#000', align: align, verticalAlign: 'middle', textAlign: align, textVerticalAlign: 'middle' } };
}

const chart = echarts.init(document.getElementById('chart'), null, { renderer: 'canvas' });
chart.setOption({
  animation: false,
  backgroundColor: 'transparent',
  grid: [
    { left: 90.7, top: 125.3, width: 375, height: 367.2, containLabel: false, outerBoundsMode: 'none' },
    { left: 586, top: 122.7, width: 374, height: 369, containLabel: false, outerBoundsMode: 'none' }
  ],
  xAxis: [
    xAx(0, 'bottom', 18.28, 29.82, true),
    xAx(0, 'top', 18.28, 29.82, false),
    xAx(1, 'bottom', 18.23, 29.8, true),
    xAx(1, 'top', 18.23, 29.8, false)
  ],
  yAxis: [
    yAx(0, 'left', -0.2, 0.197, magErrTicks, true, 28),
    yAx(0, 'right', -0.2, 0.197, magErrTicks, false, 0),
    yAx(1, 'left', -2, 2, relErrTicks, true, 30),
    yAx(1, 'right', -2, 2, relErrTicks, false, 0)
  ],
  graphic: [
    txt(310, 47.5, titles[0], 25, 'center', 1),
    txt(791, 47.5, titles[1], 26.2, 'center', 1),
    txt(16.7, 92, yNames[0], 20, 'left', 1.08),
    txt(531.7, 93, yNames[1], 19.5, 'left', 0.82)
  ],
  series: [
    { type: 'scatter', xAxisIndex: 0, yAxisIndex: 0, data: magErrPoints.concat(magErrFaint), symbol: 'circle', symbolSize: 2.4, itemStyle: { color: '#000' }, silent: true },
    { type: 'scatter', xAxisIndex: 2, yAxisIndex: 2, data: relErrPoints.concat(relErrFaint), symbol: 'circle', symbolSize: 2.4, itemStyle: { color: '#000' }, silent: true }
  ]
});
</script>
</body>
</html>
